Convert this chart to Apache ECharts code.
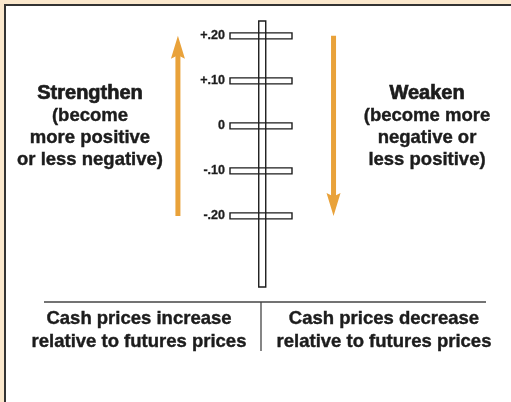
<!DOCTYPE html>
<html>
<head>
<meta charset="utf-8">
<script src="https://cdn.jsdelivr.net/npm/echarts@6/dist/echarts.min.js"></script>
<style>
  html, body { margin: 0; padding: 0; }
  #chart { width: 511px; height: 402px; }
</style>
</head>
<body>
<div id="chart"></div>
<script>
// basis scale values
const tickValues = [0.2, 0.1, 0, -0.1, -0.2];
const tickLabels = ['+.20', '+.10', '0', '-.10', '-.20'];
const poleRange = [-0.358, 0.233];

// arrows: [from, to]
const strengthenArrow = [-0.2, 0.2];
const weakenArrow = [0.2, -0.2];

// texts
const strengthenLines = ['Strengthen', '(become', 'more positive', 'or less negative)'];
const weakenLines = ['Weaken', '(become more', 'negative or', 'less positive)'];
const increaseLines = ['Cash prices increase', 'relative to futures prices'];
const decreaseLines = ['Cash prices decrease', 'relative to futures prices'];

const FONT = '"Liberation Sans", Arial, Helvetica, sans-serif';
const ORANGE = '#E9A23A';
const INK = '#1c1c1c';

const chart = echarts.init(document.getElementById('chart'));

// lay out a block of centred text lines
function textBlock(lines, cx, ys, headSize, bodySize) {
    return lines.map((t, i) => {
        const isHead = i === 0 && headSize;
        return {
            type: 'text',
            z: 10,
            x: cx,
            y: ys[i],
            style: {
                text: t,
                fill: INK,
                stroke: INK,
                lineWidth: isHead ? 0.7 : 0.4,
                font: 'bold ' + (isHead ? headSize : bodySize) + 'px ' + FONT,
                textAlign: 'center',
                textVerticalAlign: 'middle'
            }
        };
    });
}

const sideYs = [93, 116, 138, 160];
const bottomYs = [319, 342];

const graphics = [
    // white panel with dark top/left border
    {
        type: 'rect', z: 0,
        shape: { x: 5, y: 5, width: 530, height: 420 },
        style: { fill: '#fff', stroke: '#333', lineWidth: 2 }
    },
    // divider rule and small vertical separator
    {
        type: 'line', z: 1,
        shape: { x1: 44, y1: 302, x2: 486, y2: 302 },
        style: { stroke: '#444', lineWidth: 1.3 }
    },
    {
        type: 'line', z: 1,
        shape: { x1: 261, y1: 302, x2: 261, y2: 351 },
        style: { stroke: '#444', lineWidth: 1.3 }
    }
]
    .concat(textBlock(strengthenLines, 90, sideYs, 20, 18.5))
    .concat(textBlock(weakenLines, 427, sideYs, 20, 18.5))
    .concat(textBlock(increaseLines, 139, bottomYs, 0, 18.5))
    .concat(textBlock(decreaseLines, 384, bottomYs, 0, 18.5));

const option = {
    backgroundColor: '#FBE8CD',
    animation: false,
    graphic: graphics,
    grid: { left: 230, top: 21, width: 62, height: 266 },
    xAxis: { type: 'value', min: 0, max: 1, show: false },
    yAxis: {
        type: 'value',
        min: poleRange[0],
        max: poleRange[1],
        axisLine: { show: false },
        axisTick: { show: false },
        splitLine: { show: false },
        axisLabel: {
            customValues: tickValues,
            margin: 5,
            color: INK,
            fontFamily: FONT,
            fontWeight: 'bold',
            fontSize: 12.5,
            textBorderColor: INK,
            textBorderWidth: 0.3,
            formatter: function (v) {
                const i = tickValues.findIndex(t => Math.abs(t - v) < 1e-9);
                return i >= 0 ? tickLabels[i] : '';
            }
        }
    },
    series: [
        {
            // horizontal tick bars
            type: 'custom',
            z: 3,
            data: tickValues.map(v => [0, v]),
            renderItem: function (params, api) {
                const a = api.coord([0, api.value(1)]);
                const b = api.coord([1, api.value(1)]);
                return {
                    type: 'rect',
                    shape: { x: a[0], y: a[1] - 3, width: b[0] - a[0], height: 6 },
                    style: { fill: 'none', stroke: INK, lineWidth: 1.4 }
                };
            }
        },
        {
            // central pole
            type: 'custom',
            z: 3,
            data: [[0.52, poleRange[0], poleRange[1]]],
            renderItem: function (params, api) {
                const lo = api.coord([api.value(0), api.value(1)]);
                const hi = api.coord([api.value(0), api.value(2)]);
                return {
                    type: 'rect',
                    shape: { x: lo[0] - 3.5, y: hi[1], width: 7, height: lo[1] - hi[1] },
                    style: { fill: 'none', stroke: INK, lineWidth: 1.4 }
                };
            }
        },
        {
            // orange arrows
            type: 'custom',
            z: 2,
            clip: false,
            data: [
                [-0.84, strengthenArrow[0], strengthenArrow[1]],
                [1.67, weakenArrow[0], weakenArrow[1]]
            ],
            renderItem: function (params, api) {
                const from = api.coord([api.value(0), api.value(1)]);
                const to = api.coord([api.value(0), api.value(2)]);
                const x = from[0];
                const dir = to[1] < from[1] ? -1 : 1;
                const headLen = 23, headHalf = 7, shaftHalf = 2.5, notch = 3.5;
                const wing = to[1] - dir * headLen;
                const base = wing + dir * notch;
                return {
                    type: 'group',
                    children: [
                        {
                            type: 'rect',
                            shape: {
                                x: x - shaftHalf,
                                y: Math.min(from[1], base + dir * 4),
                                width: shaftHalf * 2,
                                height: Math.abs(base + dir * 4 - from[1])
                            },
                            style: { fill: ORANGE }
                        },
                        {
                            type: 'polygon',
                            shape: {
                                points: [
                                    [x, to[1]],
                                    [x - headHalf, wing],
                                    [x, base],
                                    [x + headHalf, wing]
                                ]
                            },
                            style: { fill: ORANGE }
                        }
                    ]
                };
            }
        }
    ]
};

chart.setOption(option);

window.addEventListener('resize', function () {
    chart.resize();
});
</script>
</body>
</html>
